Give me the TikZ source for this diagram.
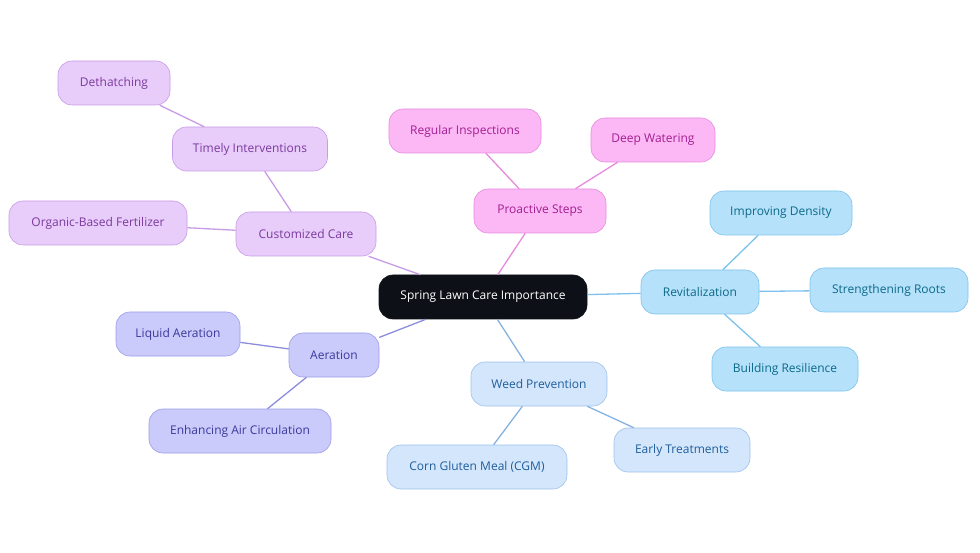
\documentclass[tikz,border=0pt]{standalone}
\usepackage{fontspec}
\setmainfont{Open Sans}
\usetikzlibrary{positioning}
\definecolor{rootfill}{HTML}{0D1117}
\definecolor{purfill}{HTML}{E8CCFA}\definecolor{purdraw}{HTML}{C79BE6}\definecolor{purtext}{HTML}{7B3A9E}
\definecolor{pinkfill}{HTML}{FCB8F5}\definecolor{pinkdraw}{HTML}{E58ADD}\definecolor{pinktext}{HTML}{A21E90}
\definecolor{bluefill}{HTML}{B6E1FB}\definecolor{bluedraw}{HTML}{7CC2EC}\definecolor{bluetext}{HTML}{0B6A88}
\definecolor{palefill}{HTML}{D3E6FB}\definecolor{paledraw}{HTML}{9DC1EA}\definecolor{paletext}{HTML}{1F5E9C}
\definecolor{lavfill}{HTML}{CACAFB}\definecolor{lavdraw}{HTML}{9C9CE8}\definecolor{lavtext}{HTML}{3A3A9C}
\definecolor{paleline}{HTML}{86B2E0}\definecolor{lavline}{HTML}{8C8CDC}
\begin{document}
\begin{tikzpicture}[x=1pt,y=-1pt,
    font=\fontsize{12}{14}\selectfont,
    box/.style={rectangle, rounded corners=14pt, minimum height=44pt, text centered, line width=0.6pt},
    root/.style={box, fill=rootfill, draw=rootfill, text=white},
    pur/.style={box, fill=purfill, draw=purdraw, text=purtext},
    pink/.style={box, fill=pinkfill, draw=pinkdraw, text=pinktext},
    blue/.style={box, fill=bluefill, draw=bluedraw, text=bluetext},
    pale/.style={box, fill=palefill, draw=paledraw, text=paletext},
    lav/.style={box, fill=lavfill, draw=lavdraw, text=lavtext},
    link/.style={line width=1.3pt}]

    \useasboundingbox (0,0) rectangle (980,553);

    % Define nodes
    \node (importance) [root, minimum width=208pt] at (483,297) {Spring Lawn Care Importance};

    % customized care
    \node (care) [pur, minimum width=140pt] at (306,234) {Customized Care};
    \node (timely) [pur, minimum width=155pt] at (250,149) {Timely Interventions};
    \node (dethatch) [pur, minimum width=112pt] at (114,83) {Dethatching};
    \node (organic) [pur, minimum width=178pt] at (98,223) {Organic-Based Fertilizer};

    % proactive steps
    \node (proactive) [pink, minimum width=132pt] at (540,211) {Proactive Steps};
    \node (inspect) [pink, minimum width=152pt] at (465,131) {Regular Inspections};
    \node (watering) [pink, minimum width=124pt] at (653,140) {Deep Watering};

    % revitalization
    \node (revital) [blue, minimum width=118pt] at (700,292) {Revitalization};
    \node (density) [blue, minimum width=142pt] at (781,213) {Improving Density};
    \node (roots) [blue, minimum width=158pt] at (889,290) {Strengthening Roots};
    \node (resil) [blue, minimum width=146pt] at (785,369) {Building Resilience};

    % weed prevention
    \node (weed) [pale, minimum width=136pt] at (539,384) {Weed Prevention};
    \node (early) [pale, minimum width=136pt] at (682,450) {Early Treatments};
    \node (cgm) [pale, minimum width=180pt] at (477,467) {Corn Gluten Meal (CGM)};

    % aeration
    \node (aeration) [lav, minimum width=90pt] at (334,355) {Aeration};
    \node (liquid) [lav, minimum width=124pt] at (178,334) {Liquid Aeration};
    \node (air) [lav, minimum width=182pt] at (240,431) {Enhancing Air Circulation};

    % arrows
    \draw [link, purdraw] (importance) -- (care);
    \draw [link, purdraw] (care) -- (timely);
    \draw [link, purdraw] (timely) -- (dethatch);
    \draw [link, purdraw] (care) -- (organic);
    \draw [link, pinkdraw] (importance) -- (proactive);
    \draw [link, pinkdraw] (proactive) -- (inspect);
    \draw [link, pinkdraw] (proactive) -- (watering);
    \draw [link, bluedraw] (importance) -- (revital);
    \draw [link, bluedraw] (revital) -- (density);
    \draw [link, bluedraw] (revital) -- (roots);
    \draw [link, bluedraw] (revital) -- (resil);
    \draw [link, paleline] (importance) -- (weed);
    \draw [link, paleline] (weed) -- (early);
    \draw [link, paleline] (weed) -- (cgm);
    \draw [link, lavline] (importance) -- (aeration);
    \draw [link, lavline] (aeration) -- (liquid);
    \draw [link, lavline] (aeration) -- (air);
\end{tikzpicture}
\end{document}
